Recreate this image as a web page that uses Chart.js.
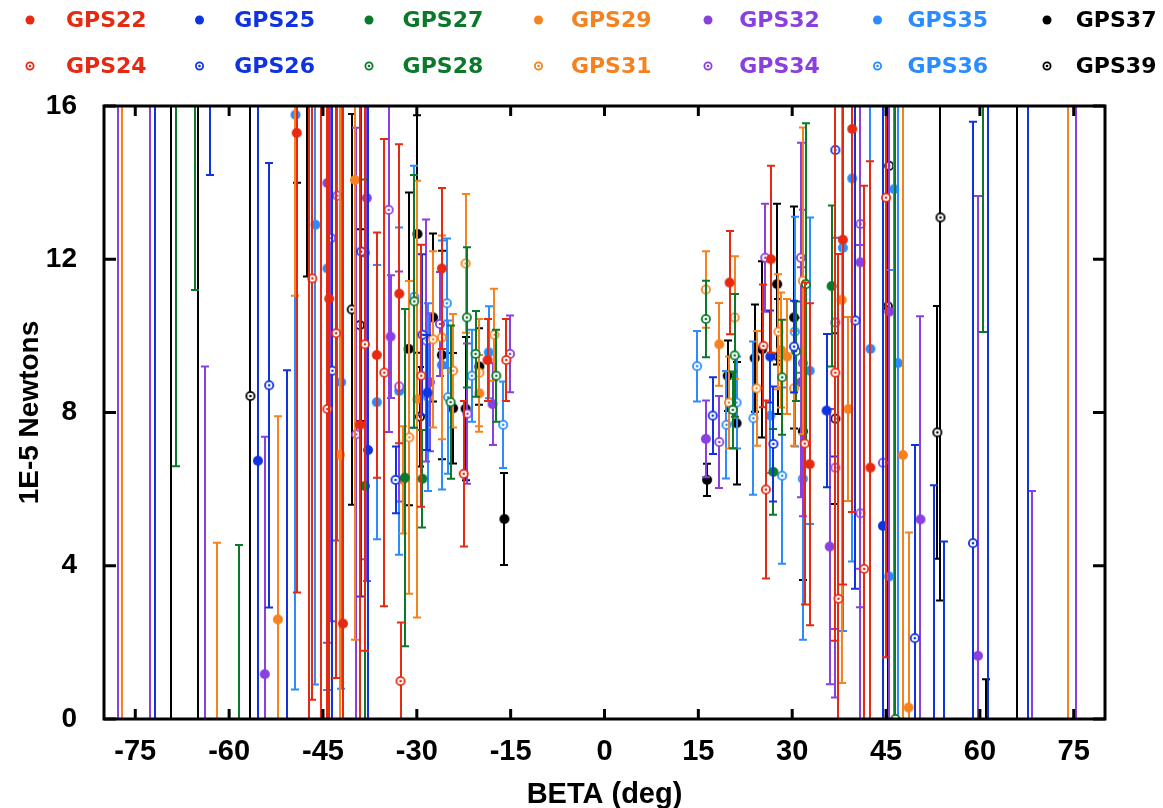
<!DOCTYPE html>
<html>
<head>
<meta charset="utf-8">
<script src="https://cdn.jsdelivr.net/npm/chart.js@4.4.0/dist/chart.umd.min.js"></script>
<style>
  html, body { margin: 0; padding: 0; background: #fff; }
</style>
</head>
<body>
<canvas id="chart" width="1163" height="808"></canvas>
<script>
// series order = plotting order; legend goes column by column
const seriesNames  = ['GPS22', 'GPS24', 'GPS25', 'GPS26', 'GPS27', 'GPS28', 'GPS29',
                      'GPS31', 'GPS32', 'GPS34', 'GPS35', 'GPS36', 'GPS37', 'GPS39'];
const seriesColors = ['#e62a12', '#e62a12', '#1033e0', '#1033e0', '#0a7a2a', '#0a7a2a', '#f5821e',
                      '#f5821e', '#8a40e0', '#8a40e0', '#2a8cff', '#2a8cff', '#000000', '#000000'];
const seriesOpen   = [false, true, false, true, false, true, false,
                      true, false, true, false, true, false, true];

// each point: [beta (deg), force (1E-5 N), error]
const gps22 = [[-49.2, 15.3, 12], [-47.3, 20, 25], [-45.3, -3, 22], [-44.0, 10.97, 12], [-41.8, 2.49, 14],
  [-39.1, 7.68, 10], [-36.4, 9.5, 3.2], [-32.8, 11.1, 3.9], [-26.0, 11.76, 2.1], [-18.7, 9.37, 1.07],
  [20.0, 11.39, 1.35], [26.6, 12.0, 2.44], [32.8, 6.65, 4.2], [38.1, 12.51, 9], [39.6, 15.4, 10], [42.5, 6.56, 8]];
const gps24 = [[-46.7, 11.5, 11], [-44.3, 8.09, 9], [-42.9, 10.07, 9], [-38.3, 9.78, 8], [-35.2, 9.04, 6.1],
  [-32.6, 0.99, 1.53], [-29.3, 8.96, 3.42], [-22.5, 6.4, 1.9], [-15.7, 9.37, 1.07], [25.4, 9.74, 1.6],
  [25.8, 5.99, 2.32], [32.0, 7.19, 4.2], [36.9, 9.04, 7], [37.4, 3.14, 9], [41.5, 3.92, 10], [45.0, 13.61, 12]];
const gps25 = [[-71.8, 20, 25], [-55.4, 6.74, 20], [-37.8, 7.02, 9], [-28.3, 8.52, 1.5], [26.5, 9.46, 1.2],
  [35.5, 8.05, 2.0], [44.5, 5.04, 11], [61.3, 20, 25], [67.7, -5, 25]];
const gps26 = [[-63.1, 20, 5.8], [-53.6, 8.71, 5.8], [-50.8, -2, 11.1], [-43.5, 9.09, 10], [-38.9, 12.2, 9],
  [-33.4, 6.24, 0.87], [-29.1, 10.03, 2.1], [17.3, 7.92, 1.0], [27.0, 7.18, 1.5], [30.3, 9.72, 1.2],
  [36.9, 14.85, 8], [40.1, 10.4, 7], [49.6, 2.11, 5.04], [52.6, -3, 9.1], [54.2, -2, 6.63], [58.9, 4.59, 11]];
const gps27 = [[-68.5, 20, 13.4], [-58.4, -1, 5.54], [-38.3, 6.08, 8], [-31.9, 6.3, 4.4], [-29.1, 6.27, 1.27],
  [27.0, 6.45, 1.12], [36.3, 11.3, 2.1], [60.5, 25, 14.9]];
const gps28 = [[-65.5, 22, 10.8], [-30.4, 10.9, 3.3], [-24.6, 8.27, 2.0], [-22.0, 10.48, 1.83], [-20.6, 9.53, 1.12],
  [-17.3, 8.96, 1.2], [16.2, 10.44, 1.0], [20.5, 8.07, 1.0], [20.8, 9.49, 1.6], [28.4, 8.92, 1.5],
  [30.6, 9.6, 1.3], [32.2, 11.35, 4.2], [46.5, 0, 25]];
const gps29 = [[-77.2, 20, 25], [-62.0, -1, 5.6], [-52.2, 2.6, 5.3], [-42.3, 6.9, 10], [-39.9, 14.07, 12],
  [-32.2, 6.24, 1.4], [-29.9, 8.35, 5.7], [-20.0, 8.5, 1.0], [18.35, 9.78, 1.08], [28.2, 9.63, 1.5],
  [29.2, 9.46, 1.5], [37.9, 10.94, 10], [39.0, 8.09, 2.4], [47.7, 6.89, 12], [48.6, 0.3, 4.57], [74.1, 20, 25]];
const gps31 = [[-49.5, 20, 8.95], [-31.2, 7.35, 4.08], [-27.4, 9.91, 2.3], [-26.0, 9.96, 2.66], [-24.2, 9.09, 1.48],
  [-22.2, 11.89, 1.81], [-20.0, 9.04, 1.4], [-17.6, 10.03, 1.2], [16.2, 11.21, 1.0], [19.9, 8.26, 1.2],
  [20.8, 10.48, 1.6], [24.3, 8.63, 1.5], [27.8, 10.11, 1.5], [30.3, 8.63, 1.5], [31.7, 11.44, 4]];
const gps32 = [[-77.7, 20, 25], [-72.6, -3, 25], [-63.9, -1, 10.2], [-54.3, 1.17, 6.2], [-44.3, 13.99, 12],
  [-38.0, 13.6, 10], [-34.2, 9.98, 1.6], [-27.9, 8.79, 1.8], [-17.9, 8.22, 1.07], [16.2, 7.31, 1.0],
  [31.4, 8.79, 3], [36.0, 4.5, 3.59], [40.9, 11.92, 9], [45.5, 10.63, 11], [50.5, 5.21, 5.3], [59.7, 1.65, 12]];
const gps34 = [[-43.7, 12.55, 10], [-42.7, 13.66, 9], [-39.7, 7.43, 8], [-38.3, 12.17, 8], [-34.5, 13.29, 5.8],
  [-32.8, 8.68, 3], [-28.5, 9.88, 3.16], [-26.3, 10.31, 1.36], [-21.9, 7.97, 1.83], [-15.1, 9.53, 1.0],
  [18.35, 7.23, 1.2], [25.7, 12.04, 1.41], [31.4, 12.04, 3], [31.7, 9.29, 4], [36.9, 10.35, 8], [36.9, 6.56, 6],
  [40.9, 12.92, 9], [40.9, 5.37, 7], [44.5, 6.69, 10], [68.3, -4, 9.95], [75.4, 20, 25]];
const gps35 = [[-49.4, 15.77, 15], [-46.2, 12.9, 12], [-44.3, 11.76, 11], [-42.1, 8.79, 8], [-36.4, 8.27, 3.58],
  [-32.8, 8.56, 4.27], [-26.0, 9.24, 3.25], [-18.5, 9.57, 1.2], [26.5, 7.92, 1.5], [32.8, 9.09, 4],
  [38.1, 12.3, 10], [39.6, 14.11, 10], [42.5, 9.66, 12], [45.5, 3.72, 8], [46.3, 13.83, 14], [46.9, 9.29, 11]];
const gps36 = [[-30.4, 11.02, 3.42], [-28.2, 8.4, 2.45], [-25.2, 10.85, 1.69], [-25.0, 8.4, 2.0], [-21.2, 8.96, 1.2],
  [-16.2, 7.68, 1.13], [14.8, 9.21, 0.92], [19.5, 7.68, 1.4], [21.1, 8.26, 1.2], [23.8, 7.85, 2.0],
  [28.4, 6.35, 2.3], [30.4, 10.11, 3], [31.7, 6.27, 4.2]];
const gps37 = [[-69.3, 20, 25], [-49.2, 20, 6], [-47.5, 20, 8.45], [-31.3, 9.66, 4.08], [-29.9, 12.66, 3.1],
  [-27.4, 10.48, 2.19], [-26.0, 9.5, 2.72], [-24.2, 8.11, 1.44], [-22.2, 8.1, 1.87], [-20.0, 9.2, 1.0],
  [-16.0, 5.22, 1.2], [16.4, 6.24, 0.42], [19.7, 8.96, 0.92], [21.1, 7.72, 1.6], [24.0, 9.42, 1.4],
  [25.2, 9.65, 2.3], [27.6, 11.35, 2.1], [30.3, 10.48, 2.9], [31.7, 7.51, 3.88], [60.9, -5, 6.04], [66.0, 20, 25]];
const gps39 = [[-65.0, 20, 25], [-56.6, 8.43, 20], [-40.4, 10.69, 5.1], [-39.1, 10.28, 2.5], [-29.5, 7.89, 1.3],
  [27.8, 9.46, 1.5], [36.9, 7.84, 2.23], [45.3, 10.77, 12], [45.5, 14.44, 15], [53.2, 7.48, 3.3], [53.7, 13.09, 10]];

const seriesData = [gps22, gps24, gps25, gps26, gps27, gps28, gps29, gps31, gps32, gps34, gps35, gps36, gps37, gps39];

const betaTicks  = [-75, -60, -45, -30, -15, 0, 15, 30, 45, 60, 75];
const forceTicks = [0, 4, 8, 12, 16];

// gnuplot style markers: filled dot, or ring with a dot in the middle
function drawMarker(ctx, x, y, color, open, r) {
  ctx.save();
  if (open) {
    ctx.strokeStyle = color;
    ctx.lineWidth = 1.8;
    ctx.fillStyle = '#fff';
    ctx.beginPath(); ctx.arc(x, y, r - 0.9, 0, Math.PI * 2); ctx.fill(); ctx.stroke();
    ctx.fillStyle = color;
    ctx.beginPath(); ctx.arc(x, y, 1.3, 0, Math.PI * 2); ctx.fill();
  } else {
    ctx.fillStyle = color;
    ctx.beginPath(); ctx.arc(x, y, r, 0, Math.PI * 2); ctx.fill();
  }
  ctx.restore();
}

function markerImage(color, open) {
  const c = document.createElement('canvas');
  c.width = 12; c.height = 12;
  drawMarker(c.getContext('2d'), 6, 6, color, open, 5);
  return c;
}

const errorBars = {
  id: 'errorBars',
  beforeDatasetDraw(chart, args) {
    const ds = chart.data.datasets[args.index];
    const { ctx, chartArea: a, scales: { x, y } } = chart;
    ctx.save();
    ctx.beginPath();
    ctx.rect(a.left, a.top, a.right - a.left, a.bottom - a.top);
    ctx.clip();
    ctx.strokeStyle = ds.borderColor;
    ctx.lineWidth = 2;
    ctx.beginPath();
    ds.data.forEach((p, i) => {
      const e = ds.errors[i];
      const px = Math.round(x.getPixelForValue(p.x));
      const lo = y.getPixelForValue(p.y - e), hi = y.getPixelForValue(p.y + e);
      ctx.moveTo(px, lo); ctx.lineTo(px, hi);
      ctx.moveTo(px - 4, lo); ctx.lineTo(px + 4, lo);
      ctx.moveTo(px - 4, hi); ctx.lineTo(px + 4, hi);
    });
    ctx.stroke();
    ctx.restore();
  }
};

// thick border with inward ticks on all four sides
const frame = {
  id: 'frame',
  afterDatasetsDraw(chart) {
    const { ctx, chartArea: a, scales: { x, y } } = chart;
    ctx.save();
    ctx.strokeStyle = '#000';
    ctx.lineWidth = 3;
    ctx.strokeRect(a.left, a.top, a.right - a.left, a.bottom - a.top);
    ctx.beginPath();
    betaTicks.forEach(v => {
      const px = x.getPixelForValue(v);
      ctx.moveTo(px, a.bottom); ctx.lineTo(px, a.bottom - 10);
      ctx.moveTo(px, a.top); ctx.lineTo(px, a.top + 10);
    });
    forceTicks.forEach(v => {
      const py = y.getPixelForValue(v);
      ctx.moveTo(a.left, py); ctx.lineTo(a.left + 12, py);
      ctx.moveTo(a.right, py); ctx.lineTo(a.right - 12, py);
    });
    ctx.stroke();
    ctx.restore();
  }
};

// two rows of seven, column by column
const topLegend = {
  id: 'topLegend',
  afterDraw(chart) {
    const ctx = chart.ctx;
    ctx.save();
    ctx.font = 'bold 22px "DejaVu Sans"';
    ctx.textBaseline = 'middle';
    chart.data.datasets.forEach((ds, i) => {
      const col = Math.floor(i / 2), row = i % 2;
      const my = 20 + row * 46;
      drawMarker(ctx, 30 + col * 169.5, my, ds.borderColor, seriesOpen[i], 4.5);
      ctx.fillStyle = ds.borderColor;
      ctx.fillText(ds.label, 66 + col * 168.3, my + 1);
    });
    ctx.restore();
  }
};

const tickFont = { family: 'Liberation Sans', weight: 'bold', size: 29 };

new Chart(document.getElementById('chart'), {
  type: 'scatter',
  data: {
    datasets: seriesData.map((pts, i) => ({
      label: seriesNames[i],
      data: pts.map(p => ({ x: p[0], y: p[1] })),
      errors: pts.map(p => p[2]),
      borderColor: seriesColors[i],
      backgroundColor: seriesColors[i],
      pointStyle: markerImage(seriesColors[i], seriesOpen[i]),
      clip: 0
    }))
  },
  options: {
    responsive: false,
    animation: false,
    layout: { padding: { top: 106, right: 58, left: 0, bottom: 0 } },
    plugins: { legend: { display: false }, tooltip: { enabled: false } },
    scales: {
      x: {
        type: 'linear', min: -80, max: 80,
        afterBuildTicks: s => { s.ticks = betaTicks.map(v => ({ value: v })); },
        afterFit: s => { s.height = 89; },
        grid: { display: false }, border: { display: false },
        ticks: { font: tickFont, color: '#000', padding: 8, maxRotation: 0, autoSkip: false },
        title: { display: true, text: 'BETA (deg)', color: '#000', padding: 0,
                 font: { family: 'Liberation Sans', weight: 'bold', size: 29, lineHeight: 0.9 } }
      },
      y: {
        type: 'linear', min: 0, max: 16,
        afterBuildTicks: s => { s.ticks = forceTicks.map(v => ({ value: v })); },
        afterFit: s => { s.width = 104; },
        grid: { display: false }, border: { display: false },
        ticks: { font: { family: 'Liberation Sans', weight: 'bold', size: 28 }, color: '#000', padding: 19 },
        title: { display: true, text: '1E-5 Newtons', color: '#000', padding: { top: 16, bottom: 0 },
                 font: { family: 'Liberation Sans', weight: 'bold', size: 28, lineHeight: 1 } }
      }
    }
  },
  plugins: [errorBars, frame, topLegend]
});
</script>
</body>
</html>
